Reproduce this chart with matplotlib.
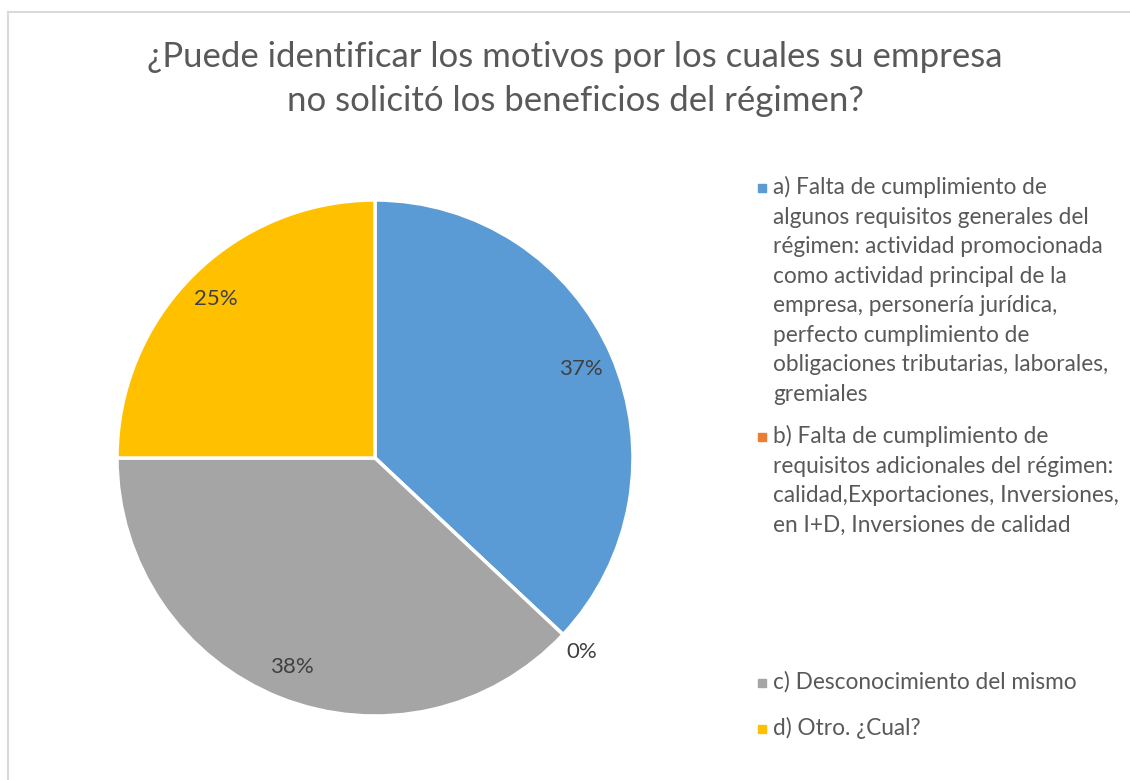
import numpy as np
import matplotlib.pyplot as plt
from matplotlib.patches import Rectangle
from matplotlib.lines import Line2D

plt.rcParams['font.family'] = ['Lato', 'DejaVu Sans']

title = "¿Puede identificar los motivos por los cuales su empresa\nno solicitó los beneficios del régimen?"
categories = [
    "a) Falta de cumplimiento de\nalgunos requisitos generales del\nrégimen: actividad promocionada\n"
    "como actividad principal de la\nempresa, personería jurídica,\nperfecto cumplimiento de\n"
    "obligaciones tributarias, laborales,\ngremiales",
    "b) Falta de cumplimiento de\nrequisitos adicionales del régimen:\ncalidad,Exportaciones, Inversiones,\n"
    "en I+D, Inversiones de calidad",
    "c) Desconocimiento del mismo",
    "d) Otro. ¿Cual?",
]
percentages = [37, 0, 38, 25]
colors = ['#5B9BD5', '#ED7D31', '#A5A5A5', '#FFC000']

W, H = 1130, 780
fig = plt.figure(figsize=(W / 100, H / 100), dpi=100)

# chart border (light gray, runs off right/bottom)
fig.add_artist(Line2D([8 / W, 1], [1 - 12 / H, 1 - 12 / H], color='#D9D9D9', lw=1.5,
                      transform=fig.transFigure))
fig.add_artist(Line2D([8 / W, 8 / W], [0, 1 - 12 / H], color='#D9D9D9', lw=1.5,
                      transform=fig.transFigure))

fig.text(575 / W, 1 - 79 / H, title, ha='center', va='center', fontsize=25,
         color='#595959', linespacing=1.45)

# pie
cx, cy, r = 375, 458, 258
ax = fig.add_axes([(cx - r) / W, 1 - (cy + r) / H, 2 * r / W, 2 * r / H])
wedges, texts, autotexts = ax.pie(percentages, colors=colors, startangle=90, counterclock=False,
                                  autopct='%.0f%%', pctdistance=0.87,
                                  wedgeprops=dict(edgecolor='white', linewidth=2.5),
                                  textprops=dict(fontsize=16, color='#404040'))
for w, t, v in zip(wedges, autotexts, percentages):
    if v == 0:
        ang = np.deg2rad((w.theta1 + w.theta2) / 2)
        t.set_position((1.1 * np.cos(ang), 1.1 * np.sin(ang)))
ax.set_xlim(-1, 1)
ax.set_ylim(-1, 1)
ax.set_aspect('equal')
ax.axis('off')

# legend entries placed like the Excel layout
legend_y = [188, 437, 683, 729]
for lab, col, y in zip(categories, colors, legend_y):
    fig.add_artist(Rectangle((758 / W, 1 - (y + 4) / H), 8 / W, 8 / H, color=col,
                             transform=fig.transFigure))
    fig.text(773 / W, 1 - (y - 12) / H, lab, ha='left', va='top', fontsize=16.3,
             color='#595959', linespacing=1.5)

fig.savefig('out.png', dpi=100)
